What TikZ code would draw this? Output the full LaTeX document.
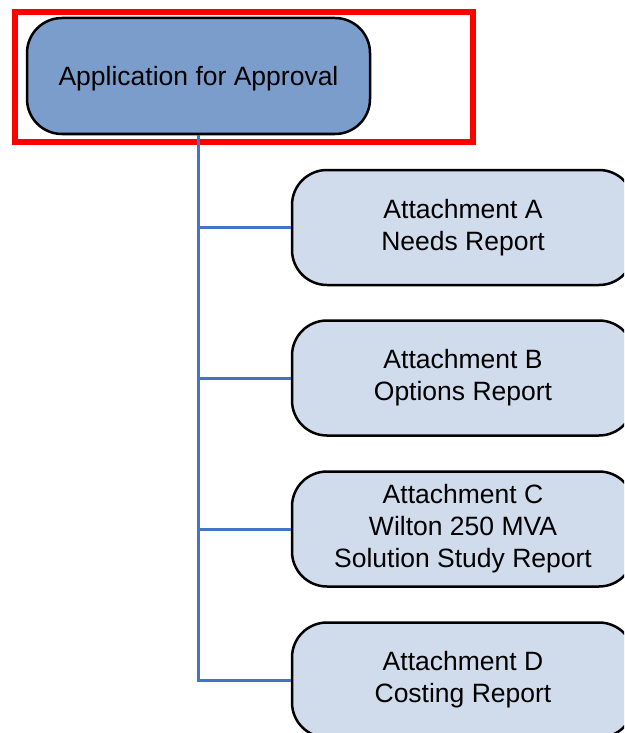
\documentclass[tikz,border=0pt]{standalone}
\usepackage{fontspec}
\setmainfont{Liberation Sans}
\definecolor{topfill}{RGB}{123,157,204}
\definecolor{childfill}{RGB}{208,219,236}
\definecolor{linkblue}{RGB}{68,114,196}
\begin{document}
\begin{tikzpicture}[x=1pt,y=-1pt,
  boxbase/.style={draw=black, line width=2.5pt, rounded corners=35pt, inner sep=0pt, align=center,
    font=\fontsize{26.5}{32}\selectfont},
  topbox/.style={boxbase, fill=topfill, minimum width=343pt, minimum height=116pt},
  childbox/.style={boxbase, fill=childfill, minimum width=342pt, minimum height=115pt},
  link/.style={draw=linkblue, line width=3pt},
  frame/.style={draw=red, line width=6pt, minimum width=458pt, minimum height=130pt, inner sep=0pt}]
\useasboundingbox (0,0) rectangle (624,733);
\clip (0,0) rectangle (624,733);
\node[frame] (fr) at (244,77) {};
\node[topbox] (top) at (198.5,76) {};
\node (toplabel) at ([yshift=-2.5pt]top.center) [font=\fontsize{26.5}{32}\selectfont] {Application for Approval};
\node[childbox] (a) at (463,227.5) {Attachment A\\Needs Report};
\node[childbox] (b) at (463,378) {Attachment B\\Options Report};
\node[childbox] (c) at (463,529) {Attachment C\\Wilton 250 MVA\\Solution Study Report};
\node[childbox] (d) at (463,680) {Attachment D\\Costing Report};
\coordinate (ja) at (top.south |- a.west);
\coordinate (jb) at (top.south |- b.west);
\coordinate (jc) at (top.south |- c.west);
\coordinate (jd) at (top.south |- d.west);
\draw[link] (top.south) -- (jd) -- (d.west);
\draw[link] (ja) -- (a.west);
\draw[link] (jb) -- (b.west);
\draw[link] (jc) -- (c.west);
\end{tikzpicture}
\end{document}
